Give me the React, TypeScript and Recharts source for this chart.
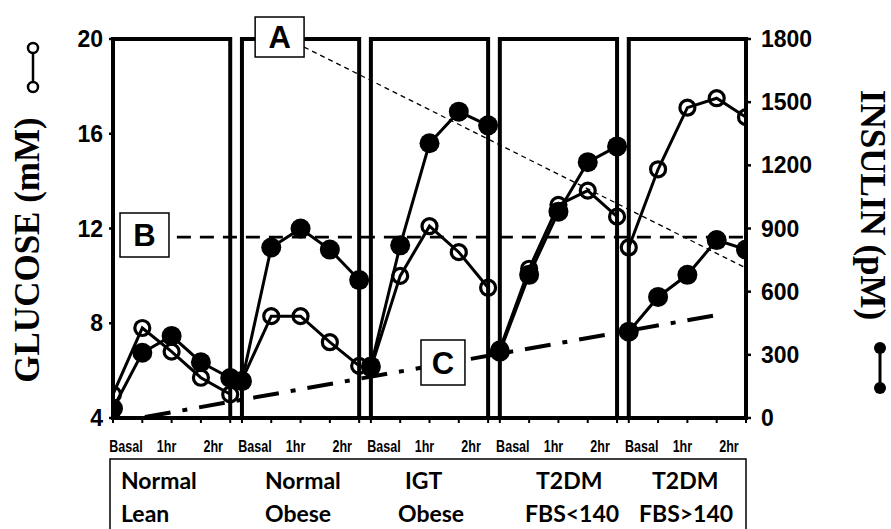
import React from "react";
import { LineChart, Line, XAxis, YAxis, ReferenceArea, ReferenceLine } from "recharts";

// Groups shown in the table under the chart
const groupTop = ["Normal", "Normal", "IGT", "T2DM", "T2DM"];
const groupBottom = ["Lean", "Obese", "Obese", "FBS<140", "FBS>140"];

// OGTT sampling points in each panel
const timePoints = ["Basal", "30min", "1hr", "90min", "2hr"];
const timeLabels = ["Basal", "", "1hr", "", "2hr"];

// Plasma glucose (mM), one row per group
const glucose = [
  [5.0, 7.8, 6.8, 5.7, 5.0],
  [5.6, 8.3, 8.3, 7.2, 6.2],
  [6.1, 10.0, 12.1, 11.0, 9.5],
  [6.9, 10.3, 13.0, 13.6, 12.5],
  [11.2, 14.5, 17.1, 17.5, 16.7],
];

// Plasma insulin (pM), one row per group
const insulin = [
  [45, 310, 390, 265, 190],
  [175, 810, 900, 800, 655],
  [245, 820, 1305, 1455, 1390],
  [315, 680, 980, 1215, 1290],
  [410, 575, 680, 845, 800],
];

const glucoseTicks = [4, 8, 12, 16, 20];
const insulinTicks = [0, 300, 600, 900, 1200, 1500, 1800];

const STEP = 4.4; // distance between the start of two panels, in sample units
const X_MAX = 4 * STEP + 4;

const SANS = "'Liberation Sans', Arial, Helvetica, sans-serif";
const SERIF = "'Liberation Serif', 'Times New Roman', serif";
const TABLE_FONT = "Lato, 'Open Sans', sans-serif";

const panelData = glucose.map((row, p) =>
  timePoints.map((t, i) => ({ x: p * STEP + i, time: t, glucose: row[i], insulin: insulin[p][i] }))
);
const allTicks = panelData.flat().map((d) => d.x);

// line C (dash-dot) runs from ~basal of lean group up to the last panel, broken by box C
const cStart = { x: 1.09, y: 4.04 };
const cEnd = { x: 20.61, y: 8.35 };
const cAt = (x: number) => cStart.y + ((x - cStart.x) * (cEnd.y - cStart.y)) / (cEnd.x - cStart.x);
const boxC = { x1: 10.51, x2: 12.01, y1: 5.39, y2: 7.29 };

const OpenDot = (props: any) => {
  const { cx, cy, index } = props;
  if (cx == null || cy == null) return null;
  return <circle key={`o-${index}`} cx={cx} cy={cy} r={7.5} fill="none" stroke="#000" strokeWidth={3.2} />;
};

const FilledDot = (props: any) => {
  const { cx, cy, index } = props;
  if (cx == null || cy == null) return null;
  return <circle key={`f-${index}`} cx={cx} cy={cy} r={10} fill="#000" />;
};

const TimeTick = (props: any) => {
  const { x, y, payload } = props;
  const v = payload.value as number;
  const p = Math.floor(v / STEP + 1e-6);
  const i = Math.round(v - p * STEP);
  const label = timeLabels[i];
  if (!label) return null;
  const shift = [13, 0, -5, 0, -17][i];
  return (
    <text
      transform={`translate(${x + shift},${y + 29}) scale(0.76,1)`}
      textAnchor="middle"
      fontFamily={SANS}
      fontWeight={700}
      fontSize={16.5}
      fill="#000"
    >
      {label}
    </text>
  );
};

const GlucoseTitle = () => (
  <g>
    <text
      transform="translate(39,250) rotate(-90)"
      textAnchor="middle"
      fontFamily={SERIF}
      fontWeight={700}
      fontSize={35}
      fill="#000"
    >
      GLUCOSE (mM)
    </text>
    <line x1={33} y1={48} x2={33} y2={87} stroke="#000" strokeWidth={2.5} />
    <circle cx={33} cy={48} r={5} fill="#fff" stroke="#000" strokeWidth={2.5} />
    <circle cx={33} cy={87} r={5} fill="#fff" stroke="#000" strokeWidth={2.5} />
  </g>
);

const InsulinTitle = () => (
  <g>
    <text
      transform="translate(861,205) rotate(90)"
      textAnchor="middle"
      fontFamily={SERIF}
      fontWeight={700}
      fontSize={35}
      fill="#000"
    >
      INSULIN (pM)
    </text>
    <line x1={880} y1={348} x2={880} y2={388} stroke="#000" strokeWidth={3} />
    <circle cx={880} cy={348} r={6} fill="#000" />
    <circle cx={880} cy={388} r={6} fill="#000" />
  </g>
);

const tickStyle = { fill: "#000", fontSize: 23, fontWeight: 700, fontFamily: SANS };
const boxLabel = (value: string) => ({
  value,
  position: "center" as const,
  fill: "#000",
  fontSize: 31,
  fontWeight: 700,
  fontFamily: SANS,
});

// left edges of the words in the table, per column
const tableTopX = [121, 265, 405, 536, 652];
const tableBottomX = [121, 265, 398, 525, 639];

export default function App() {
  return (
    <div style={{ position: "absolute", left: 0, top: 0, width: 891, height: 529, overflow: "hidden", background: "#fff" }}>
      <LineChart width={891} height={529} margin={{ top: 39, right: 0, bottom: 81, left: 0 }}>
        <XAxis
          type="number"
          dataKey="x"
          domain={[0, X_MAX]}
          ticks={allTicks}
          interval={0}
          allowDataOverflow
          height={30}
          tick={<TimeTick />}
          tickSize={5}
          tickMargin={0}
          tickLine={{ stroke: "#000", strokeWidth: 2 }}
          axisLine={{ stroke: "#000", strokeWidth: 4 }}
        />
        <YAxis
          yAxisId="g"
          domain={[4, 20]}
          ticks={glucoseTicks}
          allowDataOverflow
          width={113}
          tick={tickStyle}
          tickSize={4}
          tickMargin={6}
          tickLine={{ stroke: "#000", strokeWidth: 2.5 }}
          axisLine={{ stroke: "#000", strokeWidth: 3.5 }}
          label={GlucoseTitle}
        />
        <YAxis
          yAxisId="i"
          orientation="right"
          domain={[0, 1800]}
          ticks={insulinTicks}
          allowDataOverflow
          width={145}
          tick={{ ...tickStyle, textAnchor: "start" }}
          tickSize={5}
          tickMargin={10}
          tickLine={{ stroke: "#000", strokeWidth: 2.5 }}
          axisLine={{ stroke: "#000", strokeWidth: 3.5 }}
          label={InsulinTitle}
        />

        {panelData.map((_, p) => (
          <ReferenceArea
            key={`panel-${p}`}
            yAxisId="g"
            x1={p * STEP}
            x2={p * STEP + 4}
            y1={4}
            y2={20}
            fill="none"
            fillOpacity={0}
            stroke="#000"
            strokeWidth={4}
            ifOverflow="visible"
          />
        ))}

        {/* A: thin dashed diagonal */}
        <ReferenceLine
          yAxisId="g"
          segment={[{ x: 6.52, y: 19.66 }, { x: X_MAX, y: 10.33 }]}
          stroke="#000"
          strokeWidth={1.3}
          strokeDasharray="5 4"
          ifOverflow="visible"
        />
        {/* B: dashed horizontal */}
        <ReferenceLine
          yAxisId="g"
          segment={[{ x: 2.18, y: 11.64 }, { x: X_MAX, y: 11.64 }]}
          stroke="#000"
          strokeWidth={2.8}
          strokeDasharray="14 9"
          ifOverflow="visible"
        />
        {/* C: dash-dot rising line, interrupted by its box */}
        <ReferenceLine
          yAxisId="g"
          segment={[cStart, { x: boxC.x1, y: cAt(boxC.x1) }]}
          stroke="#000"
          strokeWidth={4}
          strokeDasharray="26 12 5 12"
          ifOverflow="visible"
        />
        <ReferenceLine
          yAxisId="g"
          segment={[{ x: boxC.x2 + 0.2, y: cAt(boxC.x2 + 0.2) }, cEnd]}
          stroke="#000"
          strokeWidth={4}
          strokeDasharray="26 12 5 12"
          ifOverflow="visible"
        />

        <ReferenceArea
          yAxisId="g"
          x1={4.85}
          x2={6.52}
          y1={19.24}
          y2={20.93}
          fill="#fff"
          fillOpacity={1}
          stroke="#000"
          strokeWidth={1.5}
          ifOverflow="visible"
          label={boxLabel("A")}
        />
        <ReferenceArea
          yAxisId="g"
          x1={0.24}
          x2={1.91}
          y1={10.8}
          y2={12.65}
          fill="#fff"
          fillOpacity={1}
          stroke="#000"
          strokeWidth={1.5}
          ifOverflow="visible"
          label={boxLabel("B")}
        />
        <ReferenceArea
          yAxisId="g"
          x1={boxC.x1}
          x2={boxC.x2}
          y1={boxC.y1}
          y2={boxC.y2}
          fill="#fff"
          fillOpacity={1}
          stroke="#000"
          strokeWidth={1.5}
          ifOverflow="visible"
          label={boxLabel("C")}
        />

        {panelData.map((d, p) => (
          <Line
            key={`ins-${p}`}
            data={d}
            dataKey="insulin"
            yAxisId="i"
            type="linear"
            stroke="#000"
            strokeWidth={3}
            dot={FilledDot}
            activeDot={false}
            isAnimationActive={false}
          />
        ))}
        {panelData.map((d, p) => (
          <Line
            key={`glu-${p}`}
            data={d}
            dataKey="glucose"
            yAxisId="g"
            type="linear"
            stroke="#000"
            strokeWidth={3}
            dot={OpenDot}
            activeDot={false}
            isAnimationActive={false}
          />
        ))}
      </LineChart>

      <svg width={891} height={529} style={{ position: "absolute", left: 0, top: 0, pointerEvents: "none" }}>
        <rect x={110} y={459} width={636} height={90} fill="none" stroke="#000" strokeWidth={1.5} />
        {groupTop.map((g, i) => (
          <text key={`t-${i}`} x={tableTopX[i]} y={489} fontFamily={TABLE_FONT} fontWeight={700} fontSize={23} fill="#000">
            {g}
          </text>
        ))}
        {groupBottom.map((g, i) => (
          <text key={`b-${i}`} x={tableBottomX[i]} y={522} fontFamily={TABLE_FONT} fontWeight={700} fontSize={23} fill="#000">
            {g}
          </text>
        ))}
      </svg>
    </div>
  );
}
